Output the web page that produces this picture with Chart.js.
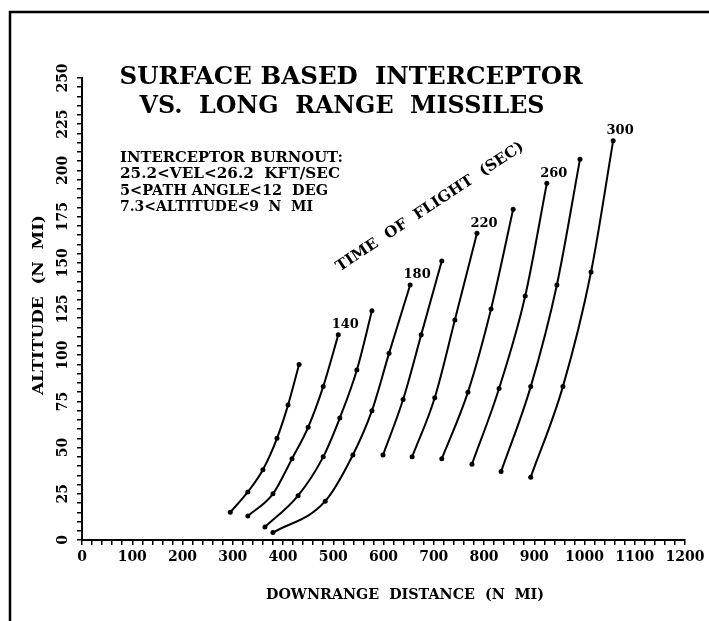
<!DOCTYPE html>
<html>
<head>
<meta charset="utf-8">
<script src="https://cdn.jsdelivr.net/npm/chart.js@4.4.0/dist/chart.umd.min.js"></script>
<style>
  html, body { margin: 0; padding: 0; background: #fff; }
  #wrap { width: 709px; height: 621px; }
</style>
</head>
<body>
<div id="wrap"><canvas id="interceptorChart" width="709" height="621"></canvas></div>
<script>
// time of flight (sec) for each curve
const flightTimes = [120, 140, 160, 180, 200, 220, 240, 260, 280, 300];
const labelledTimes = [140, 180, 220, 260, 300];

// downrange distance (n mi) and altitude (n mi)
const range120 = [295, 330, 360, 388, 410, 432];
const alt120   = [15, 26, 38, 55, 73, 95];
const range140 = [330, 380, 418, 450, 480, 510];
const alt140   = [13, 25, 44, 61, 83, 111];
const range160 = [364, 430, 480, 513, 547, 577];
const alt160   = [7, 24, 45, 66, 92, 124];
const range180 = [380, 484, 539, 577, 611, 653];
const alt180   = [4, 21, 46, 70, 101, 138];
const range200 = [599, 639, 675, 716];
const alt200   = [46, 76, 111, 151];
const range220 = [657, 702, 742, 786];
const alt220   = [45, 77, 119, 166];
const range240 = [716, 768, 814, 858];
const alt240   = [44, 80, 125, 179];
const range260 = [776, 830, 882, 925];
const alt260   = [41, 82, 132, 193];
const range280 = [834, 893, 945, 991];
const alt280   = [37, 83, 138, 206];
const range300 = [893, 957, 1013, 1057];
const alt300   = [34, 83, 145, 216];

const xTickValues = [0, 100, 200, 300, 400, 500, 600, 700, 800, 900, 1000, 1100, 1200];
const yTickValues = [0, 25, 50, 75, 100, 125, 150, 175, 200, 225, 250];

const curveRanges = [range120, range140, range160, range180, range200, range220, range240, range260, range280, range300];
const curveAlts = [alt120, alt140, alt160, alt180, alt200, alt220, alt240, alt260, alt280, alt300];

const datasets = flightTimes.map((t, i) => ({
    label: t + ' sec',
    data: curveRanges[i].map((x, j) => ({ x: x, y: curveAlts[i][j] })),
    borderColor: '#000',
    backgroundColor: '#000',
    borderWidth: 2,
    pointRadius: 2.5,
    pointBackgroundColor: '#000',
    pointBorderWidth: 0,
    cubicInterpolationMode: 'monotone',
    fill: false
}));

const serif = '"DejaVu Serif", "Liberation Serif", serif';

// draw text squeezed/stretched to a given width
function fitText(ctx, text, cx, cy, width, angle) {
    const w = ctx.measureText(text).width;
    ctx.save();
    ctx.translate(cx, cy);
    ctx.rotate(angle || 0);
    ctx.scale(width / w, 1);
    ctx.textAlign = 'center';
    ctx.textBaseline = 'middle';
    ctx.fillText(text, 0, 0);
    ctx.restore();
}

const decorations = {
    id: 'decorations',
    afterDraw(chart) {
        const ctx = chart.ctx;
        const xs = chart.scales.x;
        const ys = chart.scales.y;
        ctx.save();
        ctx.fillStyle = '#000';
        ctx.strokeStyle = '#000';

        // page frame
        ctx.lineWidth = 2.5;
        ctx.beginPath();
        ctx.moveTo(10, 621);
        ctx.lineTo(10, 12);
        ctx.lineTo(709, 12);
        ctx.stroke();

        // title
        ctx.font = 'bold 24px ' + serif;
        fitText(ctx, 'SURFACE BASED  INTERCEPTOR', 351, 78, 463);
        fitText(ctx, 'VS.  LONG  RANGE  MISSILES', 342, 107, 405);

        // burnout conditions
        ctx.font = 'bold 14px ' + serif;
        const notes = ['INTERCEPTOR BURNOUT:', '25.2<VEL<26.2  KFT/SEC', '5<PATH ANGLE<12  DEG', '7.3<ALTITUDE<9  N  MI'];
        const noteW = [223, 220, 208, 193];
        const noteY = [158, 174, 191, 207];
        notes.forEach((n, i) => fitText(ctx, n, 120 + noteW[i] / 2, noteY[i], noteW[i]));

        // time of flight caption
        ctx.font = 'bold 15px ' + serif;
        fitText(ctx, 'TIME  OF  FLIGHT  (SEC)', 430, 207, 222, -33.6 * Math.PI / 180);

        // curve labels at curve tops
        ctx.font = 'bold 13px ' + serif;
        ctx.textAlign = 'center';
        ctx.textBaseline = 'middle';
        labelledTimes.forEach(t => {
            const i = flightTimes.indexOf(t);
            const r = curveRanges[i], a = curveAlts[i];
            const px = xs.getPixelForValue(r[r.length - 1]);
            const py = ys.getPixelForValue(a[a.length - 1]);
            ctx.fillText(String(t), px + 7, py - 10);
        });

        // tick labels
        ctx.font = 'bold 14px ' + serif;
        xTickValues.forEach(v => {
            ctx.fillText(String(v), xs.getPixelForValue(v), 557);
        });
        yTickValues.forEach(v => {
            ctx.save();
            ctx.translate(63, ys.getPixelForValue(v));
            ctx.rotate(-Math.PI / 2);
            ctx.fillText(String(v), 0, 0);
            ctx.restore();
        });

        // axis titles
        ctx.font = 'bold 15px ' + serif;
        fitText(ctx, 'DOWNRANGE  DISTANCE  (N  MI)', 405, 595, 278);
        fitText(ctx, 'ALTITUDE  (N  MI)', 39, 305, 180, -Math.PI / 2);

        ctx.restore();
    }
};

new Chart(document.getElementById('interceptorChart'), {
    type: 'line',
    data: { datasets: datasets },
    options: {
        responsive: false,
        animation: false,
        devicePixelRatio: 1,
        layout: { padding: { left: 0, right: 24, top: 78, bottom: 0 } },
        plugins: {
            legend: { display: false },
            tooltip: { enabled: false }
        },
        scales: {
            x: {
                type: 'linear',
                min: 0,
                max: 1200,
                afterFit(scale) { scale.height = 81; },
                ticks: { stepSize: 20, autoSkip: false, maxRotation: 0, callback: () => '' },
                grid: { drawOnChartArea: false, tickLength: 5, color: '#000', lineWidth: 1.5 },
                border: { color: '#000', width: 2 }
            },
            y: {
                type: 'linear',
                min: 0,
                max: 250,
                afterFit(scale) { scale.width = 82; },
                ticks: { stepSize: 5, autoSkip: false, callback: () => '' },
                grid: { drawOnChartArea: false, tickLength: 5, color: '#000', lineWidth: 1.5 },
                border: { color: '#000', width: 2 }
            }
        }
    },
    plugins: [decorations]
});
</script>
</body>
</html>
